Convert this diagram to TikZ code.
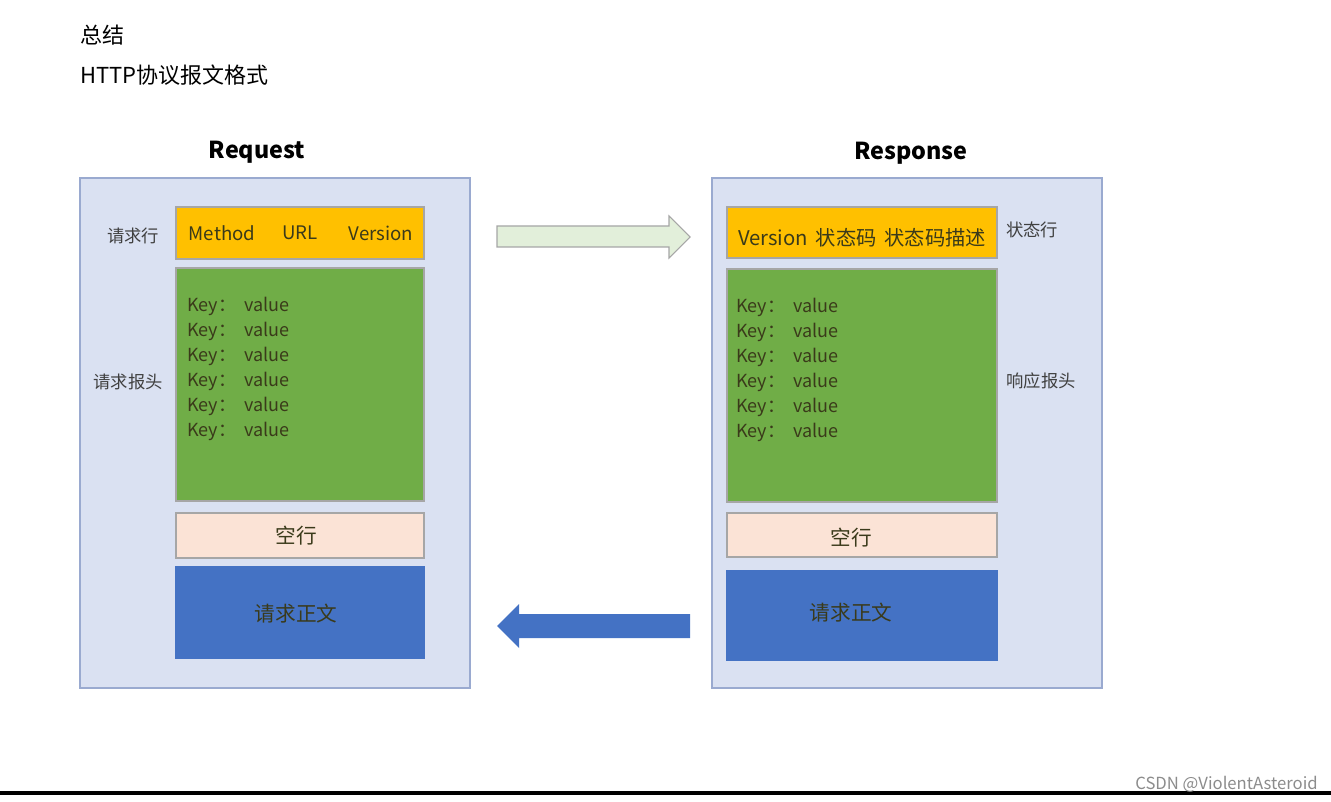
\documentclass[tikz,border=0pt]{standalone}
\usepackage{fontspec}
\setmainfont{Noto Sans CJK SC}
\usepackage{tikz}
\usetikzlibrary{positioning}
\definecolor{outerfill}{HTML}{DAE1F2}
\definecolor{outerline}{HTML}{9AAAD0}
\definecolor{linefill}{HTML}{FFC000}
\definecolor{headfill}{HTML}{70AD47}
\definecolor{emptyfill}{HTML}{FBE3D6}
\definecolor{bodyfill}{HTML}{4472C4}
\definecolor{arrowgreen}{HTML}{E2EFDA}
\definecolor{boxline}{HTML}{A6A6A6}
\definecolor{darktext}{HTML}{3A3A1A}

\begin{document}
\begin{tikzpicture}[x=0.75pt, y=-0.75pt,
    outerbox/.style={draw=outerline, fill=outerfill, line width=1pt},
    partbox/.style={draw=boxline, line width=0.8pt},
    sidelabel/.style={font=\fontsize{13}{15}\selectfont, text=black!75},
    kvtext/.style={anchor=base west, inner sep=0pt, font=\fontsize{13.5}{16}\selectfont, text=darktext},
    boxtext/.style={font=\fontsize{14}{17}\selectfont, text=darktext},
    cntext/.style={font=\fontsize{15.5}{18}\selectfont, text=darktext}]
          \useasboundingbox (0,0) rectangle (1331,802);
          \fill[white] (0,0) rectangle (1331,802);

          % heading
          \node[anchor=west, inner sep=0pt, font=\fontsize{16.5}{19}\selectfont] (summary) at (80,35) {总结};
          \node[anchor=west, inner sep=0pt, font=\fontsize{16.5}{19}\selectfont] (format) at (80,75) {HTTP协议报文格式};

          % request side
          \node[font=\bfseries\fontsize{17.5}{20}\selectfont] (reqtitle) at (257,152) {Request};
          \draw[outerbox] (80,178) rectangle (470,688);
          \draw[partbox, fill=linefill] (176,207) rectangle (424,259);
          \draw[partbox, fill=headfill] (176,268) rectangle (424,501);
          \draw[partbox, fill=emptyfill] (176,513) rectangle (424,558);
          \draw[partbox, fill=bodyfill, draw=bodyfill] (176,567) rectangle (424,658);
          \node[boxtext, anchor=west] (reqmethod) at (184,233) {Method};
          \node[boxtext] (requrl) at (300,233) {URL};
          \node[boxtext, anchor=east] (reqversion) at (418,233) {Version};
          \node[cntext] (reqempty) at (296,536) {空行};
          \node[cntext] (reqbody) at (296,614) {请求正文};
          \node[sidelabel] (reqlinelabel) at (133,236) {请求行};
          \node[sidelabel] (reqheadlabel) at (128,382) {请求报头};
          \foreach \i in {1,...,6} {
            \node[kvtext] (reqkey\i) at (187,{286+25*\i}) {Key：};
            \node[kvtext] (reqval\i) at (244,{286+25*\i}) {value};
          }

          % response side
          \node[font=\bfseries\fontsize{17.5}{20}\selectfont] (restitle) at (911,153) {Response};
          \draw[outerbox] (712,178) rectangle (1102,688);
          \draw[partbox, fill=linefill] (727,207) rectangle (997,258);
          \draw[partbox, fill=headfill] (727,269) rectangle (997,502);
          \draw[partbox, fill=emptyfill] (727,513) rectangle (997,557);
          \draw[partbox, fill=bodyfill, draw=bodyfill] (727,571) rectangle (997,660);
          \node[boxtext, font=\fontsize{15.2}{18}\selectfont] (resline) at (862,238) {Version\, 状态码\, 状态码描述};
          \node[cntext] (resempty) at (851,538) {空行};
          \node[cntext] (resbody) at (851,613) {请求正文};
          \node[sidelabel] (reslinelabel) at (1032,230) {状态行};
          \node[sidelabel] (resheadlabel) at (1041,381) {响应报头};
          \foreach \i in {1,...,6} {
            \node[kvtext] (reskey\i) at (736,{287+25*\i}) {Key：};
            \node[kvtext] (resval\i) at (793,{287+25*\i}) {value};
          }

          % block arrows
          \draw[draw=boxline, fill=arrowgreen, line width=0.8pt]
            (497,226) -- (669,226) -- (669,216) -- (690,237) -- (669,258) -- (669,247) -- (497,247) -- cycle;
          \fill[bodyfill]
            (690,614) -- (519,614) -- (519,604) -- (497,626) -- (519,648) -- (519,638) -- (690,638) -- cycle;

          % page footer
          \fill[black] (0,791) rectangle (1331,795);
          \node[anchor=east, inner sep=0pt, text=black!45, font=\fontsize{12.5}{14}\selectfont] (mark) at (1318,784) {CSDN @ViolentAsteroid};
        \end{tikzpicture}
\end{document}
